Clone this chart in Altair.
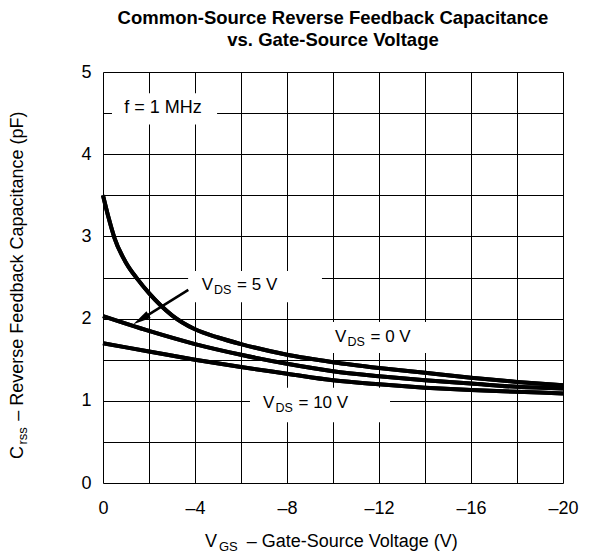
import altair as alt
import pandas as pd

# ---- data ----
vgs_top = [0, -0.25, -0.5, -1, -1.5, -2, -3, -4, -5, -6, -8, -10, -12, -14, -16, -18, -20]
crss_vds0 = [3.50, 3.22, 2.98, 2.68, 2.48, 2.31, 2.04, 1.87, 1.77, 1.69, 1.56, 1.47, 1.40, 1.34, 1.28, 1.23, 1.19]

vgs = [0, -2, -4, -6, -8, -10, -12, -14, -16, -18, -20]
crss_vds5 = [2.03, 1.85, 1.69, 1.56, 1.45, 1.36, 1.30, 1.25, 1.21, 1.17, 1.15]
crss_vds10 = [1.70, 1.60, 1.50, 1.41, 1.33, 1.25, 1.20, 1.16, 1.13, 1.11, 1.09]

x_grid = list(range(-20, 1, 2))
y_grid = [i * 0.5 for i in range(11)]

# annotation labels: main letter, subscript, rest
ann_main = ["V", "V", "V"]
ann_sub = ["DS", "DS", "DS"]
ann_rest = ["= 5 V", "= 0 V", "= 10 V"]
ann_x = [-4.29, -10.09, -6.96]
ann_y = [2.41, 1.78, 0.97]
# white boxes behind labels (data units)
box_x = [-0.39, -3.70, -9.87, -6.39]
box_x2 = [-4.96, -9.52, -14.2, -12.48]
box_y = [4.74, 2.58, 1.96, 1.16]
box_y2 = [4.36, 2.20, 1.58, 0.74]

FONT = "Liberation Sans"
FS = 18
AFS = 17
SUB = 13
ASUB = 12.5

curves = pd.DataFrame(
    [{"vgs": x, "c": y, "s": "0"} for x, y in zip(vgs_top, crss_vds0)]
    + [{"vgs": x, "c": y, "s": "5"} for x, y in zip(vgs, crss_vds5)]
    + [{"vgs": x, "c": y, "s": "10"} for x, y in zip(vgs, crss_vds10)]
)

xscale = alt.Scale(domain=[-20, 0], reverse=True, nice=False, zero=False)
yscale = alt.Scale(domain=[0, 5], nice=False)

xaxis = alt.Axis(
    values=x_grid, grid=True, gridColor="black", gridWidth=1, gridOpacity=1,
    ticks=False, domain=False, title=None, labelFlush=False, labelOverlap=False,
    labelExpr="datum.value % 4 == 0 ? (datum.value == 0 ? '0' : '\u2013' + abs(datum.value)) : ''",
    labelFont=FONT, labelFontSize=FS, labelColor="black", labelPadding=16,
)
yaxis = alt.Axis(
    values=y_grid, grid=True, gridColor="black", gridWidth=1, gridOpacity=1,
    ticks=False, domain=False, title=None, labelFlush=False, labelOverlap=False,
    labelExpr="datum.value % 1 == 0 ? format(datum.value, 'd') : ''",
    labelFont=FONT, labelFontSize=FS, labelColor="black", labelPadding=12,
)

base_x = alt.X("vgs:Q", scale=xscale, axis=xaxis)
base_y = alt.Y("c:Q", scale=yscale, axis=yaxis)

lines = alt.Chart(curves).mark_line(
    color="black", strokeWidth=4, interpolate="monotone", strokeCap="butt"
).encode(x=base_x, y=base_y, detail="s:N")

boxes_df = pd.DataFrame({"x": box_x, "x2": box_x2, "y": box_y, "y2": box_y2})
boxes = alt.Chart(boxes_df).mark_rect(color="white").encode(
    x=alt.X("x:Q", scale=xscale), x2="x2:Q",
    y=alt.Y("y:Q", scale=yscale), y2="y2:Q",
)

fdf = pd.DataFrame({"x": [-2.61], "y": [4.56], "t": ["f = 1 MHz"]})
ftext = alt.Chart(fdf).mark_text(
    font=FONT, fontSize=FS, align="center", baseline="middle", color="black"
).encode(x=alt.X("x:Q", scale=xscale), y=alt.Y("y:Q", scale=yscale), text="t:N")

adf = pd.DataFrame({"x": ann_x, "y": ann_y, "m": ann_main, "s": ann_sub, "r": ann_rest})
wV = 0.667 * AFS + 1.0
wDS = (0.722 + 0.667) * ASUB
a_main = alt.Chart(adf).mark_text(
    font=FONT, fontSize=AFS, align="left", baseline="middle", color="black"
).encode(x=alt.X("x:Q", scale=xscale), y=alt.Y("y:Q", scale=yscale), text="m:N")
a_sub = alt.Chart(adf).mark_text(
    font=FONT, fontSize=ASUB, align="left", baseline="middle", color="black",
    dx=wV, dy=5,
).encode(x=alt.X("x:Q", scale=xscale), y=alt.Y("y:Q", scale=yscale), text="s:N")
a_rest = alt.Chart(adf).mark_text(
    font=FONT, fontSize=AFS, align="left", baseline="middle", color="black",
    dx=wV + wDS + 0.278 * AFS + 1,
).encode(x=alt.X("x:Q", scale=xscale), y=alt.Y("y:Q", scale=yscale), text="r:N")

# arrow (VDS = 5 V pointer)
arrow_df = pd.DataFrame({"x": [-3.71], "y": [2.35], "x2": [-1.65], "y2": [1.99]})
arrow_line = alt.Chart(arrow_df).mark_rule(color="black", strokeWidth=2.5).encode(
    x=alt.X("x:Q", scale=xscale), y=alt.Y("y:Q", scale=yscale), x2="x2:Q", y2="y2:Q"
)
head_df = pd.DataFrame({"x": [-1.65], "y": [1.99]})
arrow_head = alt.Chart(head_df).mark_point(
    shape="M0,-1L0.45,1L-0.45,1Z", size=324, filled=True, color="black",
    opacity=1, angle=238,
).encode(x=alt.X("x:Q", scale=xscale), y=alt.Y("y:Q", scale=yscale))

# axis titles with subscripts (pixel positions relative to plot area)
xt_df = pd.DataFrame({"p": ["V", "GS", "\u2013 Gate-Source Voltage (V)"],
                      "dx": [0, 0.667 * FS + 2, 41.7],
                      "dy": [0, 5, 0], "fs": [FS, SUB, FS]})
xt_layers = []
for i in range(3):
    xt_layers.append(
        alt.Chart(xt_df.iloc[[i]]).mark_text(
            font=FONT, fontSize=float(xt_df.fs[i]), align="left", baseline="middle",
            color="black", dx=float(xt_df.dx[i]), dy=float(xt_df.dy[i]),
        ).encode(x=alt.value(102), y=alt.value(470), text="p:N")
    )

wC = 0.722 * FS + 1.5
yt_df = pd.DataFrame({"p": ["C", "rss", "\u2013 Reverse Feedback Capacitance (pF)"],
                      "dx": [0, wC, wC + 1.333 * SUB + 6.5],
                      "dy": [0, 5, 0], "fs": [FS, SUB, FS]})
yt_layers = []
for i in range(3):
    yt_layers.append(
        alt.Chart(yt_df.iloc[[i]]).mark_text(
            font=FONT, fontSize=float(yt_df.fs[i]), align="left", baseline="middle",
            color="black", angle=270, dx=float(yt_df.dx[i]), dy=float(yt_df.dy[i]),
        ).encode(x=alt.value(-85), y=alt.value(387), text="p:N")
    )

chart = alt.layer(
    lines, boxes, lines, ftext, a_main, a_sub, a_rest, arrow_line, arrow_head,
    *xt_layers, *yt_layers,
).properties(
    width=460, height=411,
    title=alt.Title(
        ["Common-Source Reverse Feedback Capacitance", "vs. Gate-Source Voltage"],
        font=FONT, fontSize=18.5, fontWeight="bold", anchor="middle", color="black",
        offset=14, lineHeight=22,
    ),
    autosize=alt.AutoSizeParams(type="none"),
    padding={"left": 95, "top": 64, "right": 20, "bottom": 70},
).configure_view(stroke="black", strokeWidth=3).configure(background="white")

chart.save("out.html", embed_options={"renderer": "svg", "actions": False})
